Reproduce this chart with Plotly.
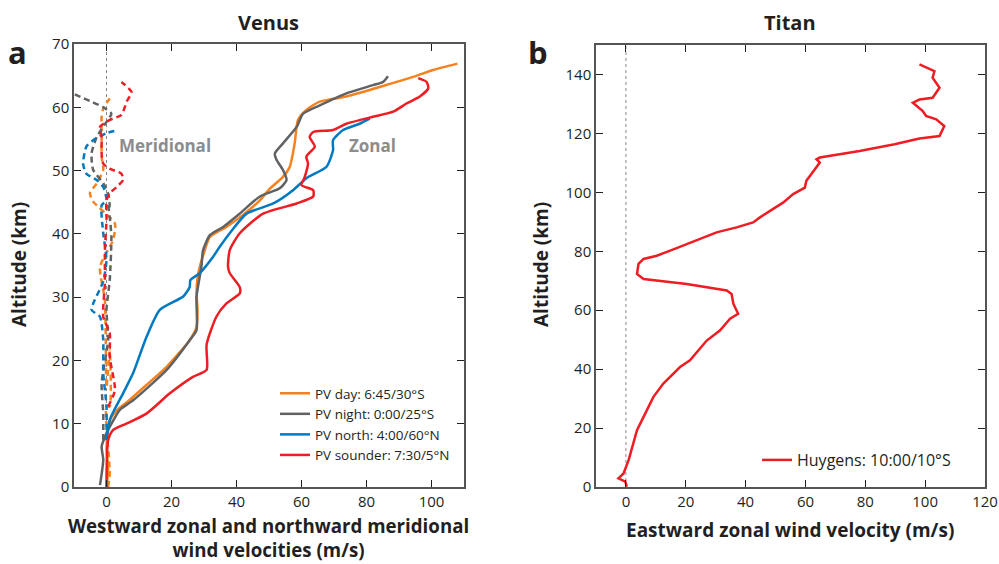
import plotly.graph_objects as go

# ---------------- Venus data (km altitude vs m/s) ----------------
# Zonal (westward) winds
day_zonal_u = [0, 0.5, 0, 0.5, 1.5, 4, 7, 12, 18.5, 25.6, 27.7, 28, 27.7, 28, 28.7, 30, 31.8, 36.9, 42, 47.2, 50, 54.3, 56.4, 57.9, 58.9, 61.5, 65.6, 73.8, 84, 94.3, 100.5, 108]
day_zonal_z = [0, 3, 6, 9, 11, 12.5, 13.7, 16, 19, 23.2, 25.3, 28, 30.6, 33, 34.8, 37, 39.5, 41.1, 43, 45.3, 47, 49, 50.6, 54.3, 58, 59.6, 60.9, 61.7, 63.2, 64.8, 65.9, 66.9]

night_zonal_u = [-2, -1, -1.5, 0, 1, 4.1, 8.2, 18.5, 25.6, 27.7, 27.7, 29.2, 29.7, 31.8, 35.9, 41, 47.2, 53.3, 55.4, 54.3, 52.3, 51.8, 54.3, 58.5, 60.5, 65.6, 73.8, 82, 85.1, 86.6]
night_zonal_z = [0.3, 4.3, 6.4, 8.5, 9.5, 12.2, 13.7, 18.5, 23.2, 24.8, 30.1, 34.8, 37.4, 39.8, 41.1, 43.2, 45.9, 47.2, 48.5, 50.1, 51.7, 52.7, 54.3, 56.9, 59, 60.3, 62.2, 63.5, 64, 64.9]

north_zonal_u = [0, 1, 5.1, 8.2, 12.3, 16.4, 23.6, 25.6, 25.8, 28.7, 32.8, 34.9, 38.5, 43.1, 51.3, 57.4, 61.5, 67.7, 69.7, 69.7, 72.8, 77.9, 81]
north_zonal_z = [7.4, 10.6, 14.8, 18, 23.7, 28, 30.1, 31.6, 32.7, 33.8, 36.4, 38, 40.5, 43.2, 44.8, 46.9, 48.8, 50.6, 53.2, 54.8, 56.4, 57.4, 58.2]

sounder_zonal_u = [0, 0.5, 2, 6.1, 12.3, 19.5, 26.6, 30.8, 30.8, 33.8, 36.9, 41, 41, 37.9, 37.4, 37.9, 41, 48.2, 58.5, 63.6, 63.6, 60, 61, 62, 61.5, 64.1, 62.5, 63.6, 69.7, 73.8, 82, 88.2, 92.3, 96.4, 99, 98.5, 95.9]
sounder_zonal_z = [0, 7.4, 9, 10, 11.6, 14.8, 17.4, 18.5, 22.5, 26.9, 29, 30.6, 31.6, 33.8, 34.8, 37.4, 40.1, 43.2, 44.8, 45.9, 46.9, 47.7, 49, 51.1, 52.2, 53.8, 55.3, 56.1, 56.4, 57.4, 58.5, 59.3, 60.6, 61.7, 63, 64, 64.6]

# Meridional (northward) winds
day_merid_v = [0.5, 1, 0, 1, 1, 0, -0.5, -2, 2, 2.6, -4.1, -5.1, -3, -1, -1.5, -1.5, -1.5, -1, 1]
day_merid_z = [0, 2.2, 12.7, 12.7, 21.6, 15.8, 29.5, 34.8, 39, 41.6, 45.1, 46.4, 48, 50.1, 52.2, 54.8, 58.5, 59.8, 61.4]
night_merid_v = [-1, -1, -1.5, 0.5, 0, 1, 1.5, 1, 0.5, 1, 0.5, -1, -4.1, -4.6, -3, 0, 1.5, -1, -10.5]
night_merid_z = [7.4, 11.6, 16.4, 23.2, 28, 32.7, 39.5, 42.7, 44.8, 44.3, 46.4, 48, 50.1, 52.7, 55.3, 57.7, 59, 60, 62.2]
north_merid_v = [0, 0, -1, -1, -2, -4.6, -1, 0, -1, -1.5, 0, -1, -3, -6.2, -7.2, -6.2, -4.1, 0, 3.6]
north_merid_z = [7.4, 12.7, 18, 23.2, 26.9, 28, 32.5, 35.9, 40.1, 44.5, 45.3, 47.4, 48.5, 49.5, 51.1, 53.8, 54.8, 55.9, 56.4]
sounder_merid_v = [0.5, 2.6, 1, 1, -1, -0.5, -0.5, 0, 0, 1, 3.1, 5.1, 4.6, 1, -1, -1.5, -1.5, -2, 1, 4.6, 6.2, 7.7, 4.6]
sounder_merid_z = [12.7, 15.3, 20.5, 24.3, 26.9, 32.2, 37.4, 42.2, 45.3, 46.4, 47.4, 48.5, 49.5, 50.3, 51.1, 52.7, 55.3, 56.9, 58, 58.8, 60.9, 62.4, 64]

# ---------------- Titan data ----------------
titan_u = [0.3, -0.2, -2.5, -0.8, 0.9, 2.5, 3.7, 5.9, 9.2, 12.5, 18.1, 21.4, 27, 31.4, 34.8, 37.5, 35.9, 35.3, 33.7, 20.3, 5.9, 3.7, 4.2, 5.9, 10.3, 14.8, 19.2, 30.3, 37, 42.5, 44.8, 52.5, 55.9, 59.8, 60.3, 64.8, 63.7, 64.8, 78.1, 89.8, 98.1, 104.8, 106.4, 103.7, 100.3, 99.2, 95.9, 98.1, 102.5, 104.8, 102.5, 103.1, 98.1]
titan_z = [0.1, 1.8, 2.9, 4.6, 9.1, 14.8, 19.3, 23.8, 30.6, 35.1, 40.7, 43, 49.7, 53.1, 57.1, 58.8, 62.2, 65.5, 66.7, 68.9, 70.6, 72.3, 75.7, 77.4, 78.5, 80.2, 81.9, 86.4, 88.1, 89.8, 91.5, 96.5, 99.4, 101.6, 103.9, 110.1, 111.2, 111.8, 114, 116.3, 118.3, 119.1, 122.5, 124.8, 125.9, 127.6, 130.4, 131.5, 132.1, 135.5, 138.9, 141.1, 143.4]

venus_xticks = [0, 20, 40, 60, 80, 100]
venus_yticks = [0, 10, 20, 30, 40, 50, 60, 70]
titan_xticks = [0, 20, 40, 60, 80, 100, 120]
titan_yticks = [0, 20, 40, 60, 80, 100, 120, 140]

legend_names = ["PV day: 6:45/30°S", "PV night: 0:00/25°S", "PV north: 4:00/60°N", "PV sounder: 7:30/5°N"]
titan_name = "Huygens: 10:00/10°S"

ORANGE = "#F58220"
GREY = "#616264"
BLUE = "#0079C1"
RED = "#EE1D23"
FONT = "Open Sans"
TXT = "#231F20"

W, H = 999, 564


def fx(p):
    return p / W


def fy(p):
    return 1 - p / H


fig = go.Figure()

merid = [(day_merid_v, day_merid_z, ORANGE), (night_merid_v, night_merid_z, GREY),
         (north_merid_v, north_merid_z, BLUE), (sounder_merid_v, sounder_merid_z, RED)]
for v, z, c in merid:
    fig.add_trace(go.Scatter(x=v, y=z, mode="lines", line=dict(color=c, width=2.5, dash="6px,4px", shape="spline", smoothing=0.6),
                             showlegend=False, xaxis="x", yaxis="y", hoverinfo="skip"))

zonal = [(day_zonal_u, day_zonal_z, ORANGE), (night_zonal_u, night_zonal_z, GREY),
         (north_zonal_u, north_zonal_z, BLUE), (sounder_zonal_u, sounder_zonal_z, RED)]
for (u, z, c), name in zip(zonal, legend_names):
    fig.add_trace(go.Scatter(x=u, y=z, mode="lines", name=name,
                             line=dict(color=c, width=2.5, shape="spline", smoothing=0.6),
                             xaxis="x", yaxis="y", legend="legend"))

fig.add_trace(go.Scatter(x=titan_u, y=titan_z, mode="lines", name=titan_name,
                         line=dict(color=RED, width=2.5), xaxis="x2", yaxis="y2", legend="legend2"))

axis_common = dict(showline=True, linecolor="#555555", linewidth=1.5, mirror="ticks",
                   ticks="inside", ticklen=7, tickcolor="#231F20", tickwidth=1.2, automargin=False,
                   ticklabeloverflow="allow",
                   showgrid=False, zeroline=False, tickfont=dict(family=FONT, size=15, color=TXT))

fig.update_layout(
    width=W, height=H, autosize=False,
    margin=dict(l=0, r=0, t=0, b=0, pad=0, autoexpand=False),
    paper_bgcolor="white", plot_bgcolor="white",
    font=dict(family=FONT, color=TXT),
    xaxis=dict(domain=[fx(74), fx(464)], range=[-10, 110], tickvals=venus_xticks, anchor="y", **axis_common),
    yaxis=dict(domain=[fy(487), fy(44)], range=[0, 70], tickvals=venus_yticks, anchor="x", **axis_common),
    xaxis2=dict(domain=[fx(596), fx(985)], range=[-10, 120], tickvals=titan_xticks, anchor="y2", **axis_common),
    yaxis2=dict(domain=[fy(487), fy(45)], range=[0, 150], tickvals=titan_yticks, anchor="x2", **axis_common),
    legend=dict(x=fx(275), y=fy(378), xanchor="left", yanchor="top", bgcolor="rgba(0,0,0,0)",
                font=dict(family=FONT, size=13.5, color=TXT), itemwidth=30, tracegroupgap=0),
    legend2=dict(x=fx(757), y=fy(443), xanchor="left", yanchor="top", bgcolor="rgba(0,0,0,0)",
                 font=dict(family=FONT, size=16, color=TXT), itemwidth=30),
)

# zero reference lines
for xr, yr in (("x", "y"), ("x2", "y2")):
    fig.add_shape(type="line", xref=xr, yref=f"{yr} domain", x0=0, x1=0, y0=0, y1=1,
                  line=dict(color="#8a8a8a", width=1, dash="dot"), layer="below")


def txt(text, x, y, size, angle=0, color=TXT):
    return dict(text=text, x=fx(x), y=fy(y), xref="paper", yref="paper", showarrow=False,
                textangle=angle, font=dict(size=size, family=FONT, color=color),
                xanchor="center", yanchor="middle")


ann = [
    txt("<b>Venus</b>", 268, 22, 20),
    txt("<b>Titan</b>", 790, 22, 20),
    txt("<b>a</b>", 17, 52, 31),
    txt("<b>b</b>", 538, 52, 31),
    txt("<b>Altitude (km)</b>", 19, 265, 19, -90),
    txt("<b>Altitude (km)</b>", 541, 265, 19, -90),
    txt("<b>Westward zonal and northward meridional<br>wind velocities (m/s)</b>", 268, 537.5, 18.7),
    txt("<b>Eastward zonal wind velocity (m/s)</b>", 790, 530, 19),
    txt("<b>Meridional</b>", 165, 145, 17, color="#8C8C8E"),
    txt("<b>Zonal</b>", 372, 145, 17, color="#8C8C8E"),
]
fig.update_layout(annotations=ann)

fig.write_html("out.html", config={"displayModeBar": False},
               post_script="document.body.style.margin='0';document.body.style.overflow='hidden';")
